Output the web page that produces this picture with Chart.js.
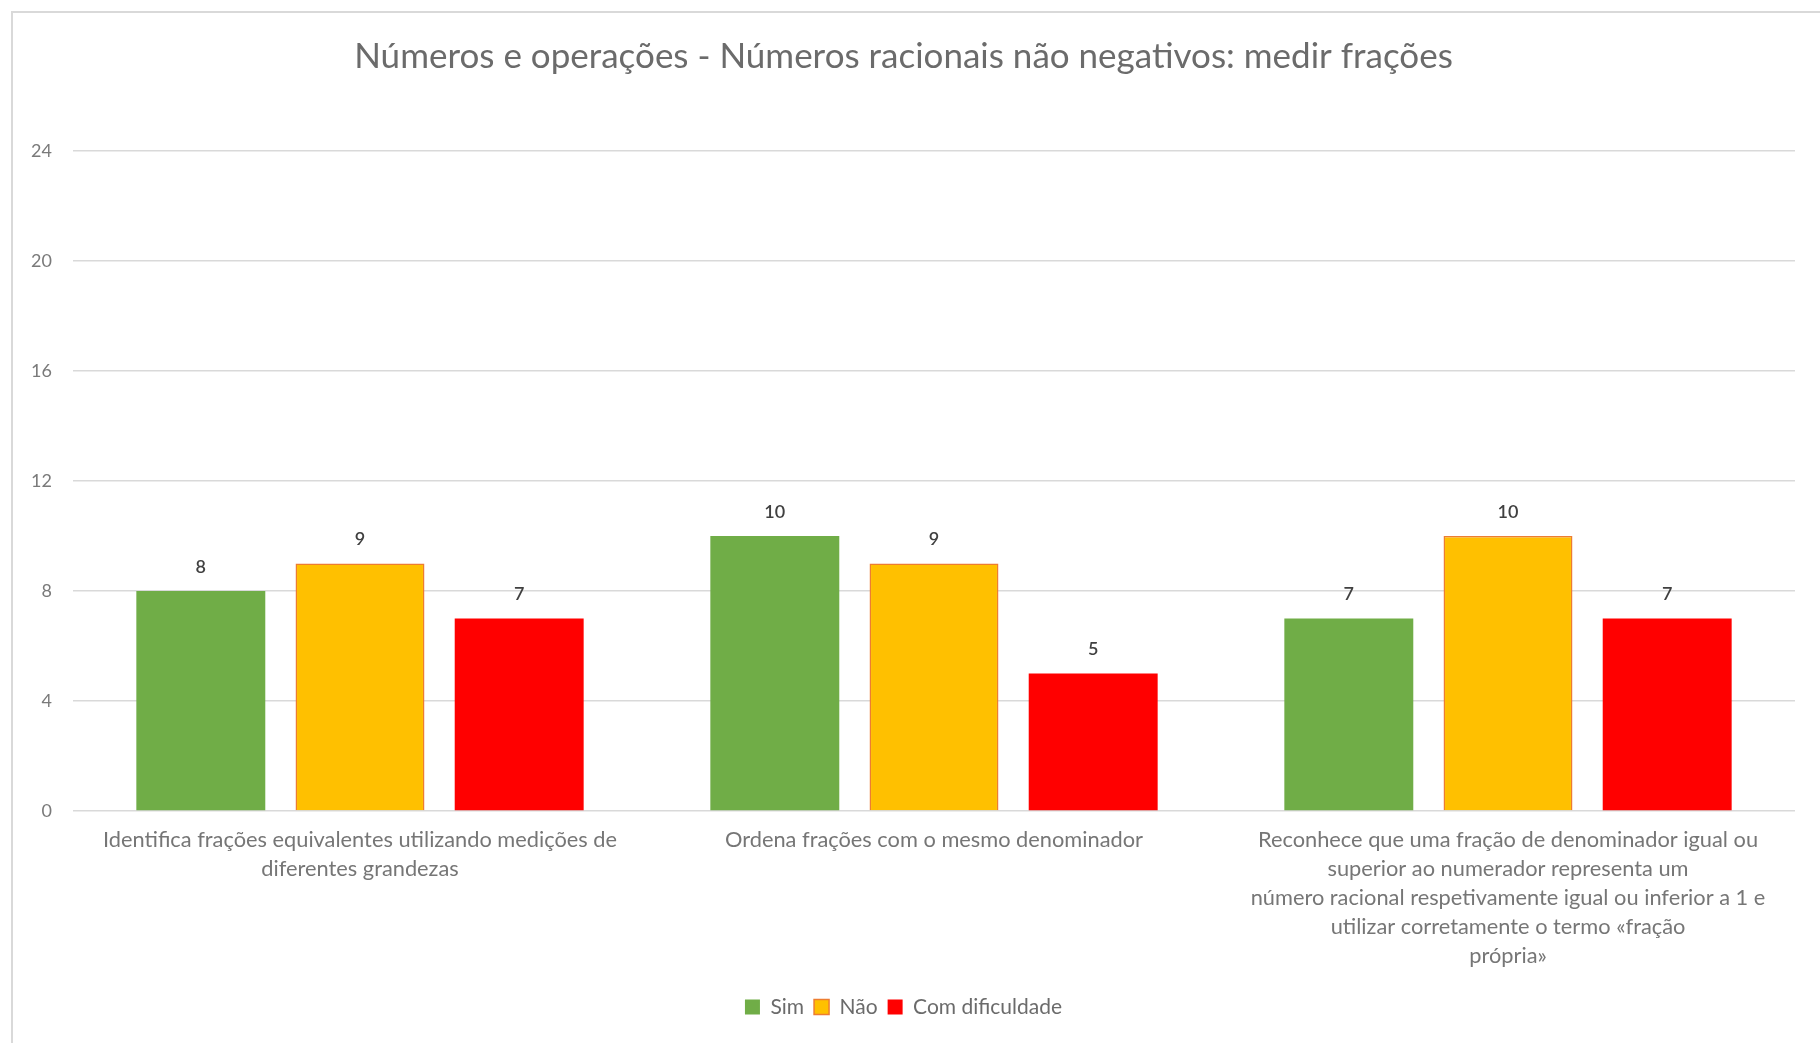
<!DOCTYPE html>
<html>
<head>
<meta charset="utf-8">
<script src="https://cdn.jsdelivr.net/npm/chart.js@4"></script>
<style>
  html, body { margin: 0; padding: 0; background: #fff; }
  #caixa { position: relative; width: 1820px; height: 1043px; overflow: hidden; }
  #moldura { position: absolute; left: 11px; top: 11px; width: 1830px; height: 1050px; border: 2px solid #d9d9d9; }
  #myChart { position: absolute; left: 0; top: 0; }
</style>
</head>
<body>
<div id="caixa">
  <div id="moldura"></div>
  <canvas id="myChart" width="1820" height="1043"></canvas>
</div>
<script>
const categorias = [
    ['Identifica frações equivalentes utilizando medições de', 'diferentes grandezas'],
    'Ordena frações com o mesmo denominador',
    ['Reconhece que uma fração de denominador igual ou', 'superior ao numerador representa um',
     'número racional respetivamente igual ou inferior a 1 e', 'utilizar corretamente o termo «fração', 'própria»']
];
const sim = [8, 10, 7];
const nao = [9, 9, 10];
const comDificuldade = [7, 5, 7];
const ticksY = [0, 4, 8, 12, 16, 20, 24];

const fonte = 'Lato, "Open Sans", sans-serif';

// escreve o valor por cima de cada barra
const rotulos = {
    id: 'rotulos',
    afterDatasetsDraw(chart) {
        const ctx = chart.ctx;
        ctx.save();
        ctx.font = '600 18px ' + fonte;
        ctx.fillStyle = '#404040';
        ctx.textAlign = 'center';
        ctx.textBaseline = 'middle';
        chart.data.datasets.forEach((ds, i) => {
            chart.getDatasetMeta(i).data.forEach((barra, j) => {
                ctx.fillText(ds.data[j], barra.x, barra.y - 24);
            });
        });
        ctx.restore();
    }
};

const ctx = document.getElementById('myChart');

new Chart(ctx, {
    type: 'bar',
    data: {
        labels: categorias,
        datasets: [{
            label: 'Sim',
            data: sim,
            backgroundColor: '#70AD47',
            borderColor: '#70AD47',
            borderWidth: 0
        }, {
            label: 'Não',
            data: nao,
            backgroundColor: '#FFC000',
            borderColor: '#ED7D31',
            borderWidth: 1.5
        }, {
            label: 'Com dificuldade',
            data: comDificuldade,
            backgroundColor: '#FF0000',
            borderColor: '#FF0000',
            borderWidth: 0
        }]
    },
    options: {
        responsive: false,
        animation: false,
        categoryPercentage: 0.832,
        barPercentage: 0.81,
        layout: { padding: { left: 12, right: 25, top: 0, bottom: 15.5 } },
        plugins: {
            title: {
                display: true,
                text: 'Números e operações - Números racionais não negativos: medir frações',
                color: '#6b6b6b',
                font: { family: fonte, size: 35, weight: 'normal', lineHeight: 1.2 },
                padding: { top: 36, bottom: 73 }
            },
            legend: {
                position: 'bottom',
                labels: {
                    color: '#6b6b6b',
                    font: { family: fonte, size: 21 },
                    boxWidth: 15,
                    boxHeight: 15,
                    padding: 10
                }
            },
            tooltip: { enabled: false }
        },
        scales: {
            x: {
                grid: { display: false, drawTicks: false },
                border: { display: false },
                ticks: {
                    color: '#767676',
                    font: { family: fonte, size: 21.8, lineHeight: 1.33 },
                    padding: 14,
                    maxRotation: 0,
                    autoSkip: false
                },
                afterFit: (s) => { s.height = 175.5; }
            },
            y: {
                min: 0,
                max: 24,
                afterBuildTicks: (s) => { s.ticks = ticksY.map(v => ({ value: v })); },
                grid: { color: '#d9d9d9', lineWidth: 1.5, drawTicks: false },
                border: { display: false },
                ticks: {
                    color: '#7a7a7a',
                    font: { family: fonte, size: 18 },
                    padding: 21
                },
                afterFit: (s) => { s.width = 61; }
            }
        }
    },
    plugins: [rotulos]
});
</script>
</body>
</html>
